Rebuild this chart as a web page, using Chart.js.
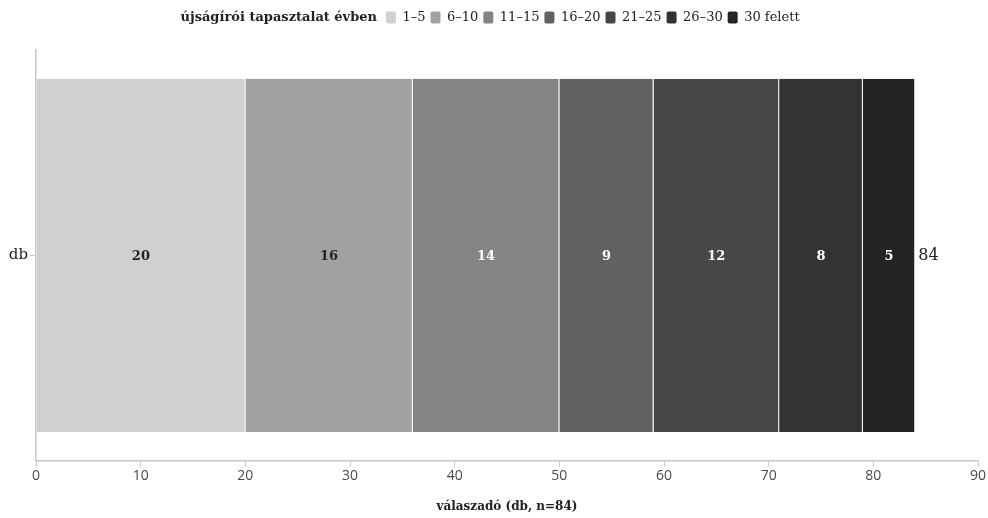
<!DOCTYPE html>
<html>
<head>
<meta charset="utf-8">
<script src="https://cdn.jsdelivr.net/npm/chart.js@4"></script>
<style>
  html, body { margin: 0; padding: 0; background: #fff; }
  #wrap { width: 988px; height: 518px; position: relative; }
</style>
</head>
<body>
<div id="wrap"><canvas id="c"></canvas></div>
<script>
// Respondents by years of journalistic experience
const categories = ['db'];
const groups = ['1–5', '6–10', '11–15', '16–20', '21–25', '26–30', '30 felett'];
const counts = [20, 16, 14, 9, 12, 8, 5];
const xTicks = [0, 10, 20, 30, 40, 50, 60, 70, 80, 90];
const legendTitle = 'újságírói tapasztalat évben';
const axisTitle = 'válaszadó (db, n=84)';

const palette = ['#d0d0d0', '#a1a1a1', '#848484', '#616161', '#474747', '#333333', '#242424'];
const labelInk = ['#222222', '#222222', '#ffffff', '#ffffff', '#ffffff', '#ffffff', '#ffffff'];

const SERIF = '"DejaVu Serif", "Liberation Serif", serif';
const SANS = '"Open Sans", "DejaVu Sans", sans-serif';

const total = counts.reduce((a, b) => a + b, 0);

// Extra room under the legend row
const legendGap = {
  id: 'legendGap',
  beforeInit(chart) {
    const lg = chart.legend;
    const fit = lg.fit;
    lg.fit = function () {
      fit.call(lg);
      this.height += 16;
    };
  }
};

// Segment values, stacked total, and the bold legend heading
const labelsPlugin = {
  id: 'segmentLabels',
  afterDatasetsDraw(chart) {
    const ctx = chart.ctx;
    ctx.save();
    ctx.textAlign = 'center';
    ctx.textBaseline = 'middle';
    ctx.font = 'bold 13px ' + SERIF;
    let lastEnd = null, midY = null;
    chart.data.datasets.forEach((ds, i) => {
      const meta = chart.getDatasetMeta(i);
      if (meta.hidden) return;
      meta.data.forEach((bar, j) => {
        const cx = (bar.x + bar.base) / 2;
        ctx.fillStyle = labelInk[i];
        ctx.fillText(String(ds.data[j]), cx, bar.y + 1);
        lastEnd = bar.x; midY = bar.y;
      });
    });
    if (lastEnd !== null) {
      ctx.textAlign = 'left';
      ctx.font = '16px ' + SERIF;
      ctx.fillStyle = '#222';
      ctx.fillText(String(total), lastEnd + 3, midY);
    }
    ctx.restore();
  },
  afterDraw(chart) {
    const lg = chart.legend;
    if (!lg || !lg.legendHitBoxes || !lg.legendHitBoxes.length) return;
    const hb = lg.legendHitBoxes[0];
    const ctx = chart.ctx;
    ctx.save();
    ctx.font = 'bold 13px ' + SERIF;
    ctx.fillStyle = '#222';
    ctx.textAlign = 'right';
    ctx.textBaseline = 'middle';
    ctx.fillText(legendTitle, hb.left + hb.width - 4, hb.top + hb.height / 2);
    ctx.restore();
  }
};

new Chart(document.getElementById('c'), {
  type: 'bar',
  data: {
    labels: categories,
    datasets: groups.map((g, i) => ({
      label: g,
      data: [counts[i]],
      backgroundColor: palette[i],
      borderColor: '#f2f2f2',
      borderWidth: { left: 0, right: 1, top: 0, bottom: 0 },
      borderSkipped: false,
      barPercentage: 0.86,
      categoryPercentage: 1
    }))
  },
  options: {
    indexAxis: 'y',
    responsive: true,
    maintainAspectRatio: false,
    animation: false,
    layout: { padding: { top: 6, right: 10, bottom: 4, left: 0 } },
    plugins: {
      tooltip: { enabled: false },
      legend: {
        position: 'top',
        align: 'center',
        onClick: () => {},
        labels: {
          color: '#222',
          font: { family: SERIF, size: 13 },
          boxWidth: 10,
          boxHeight: 12,
          padding: 5,
          useBorderRadius: true,
          borderRadius: 2,
          generateLabels(chart) {
            const items = Chart.defaults.plugins.legend.labels.generateLabels(chart);
            items.forEach(it => { it.lineWidth = 0; it.strokeStyle = 'rgba(0,0,0,0)'; });
            items.unshift({
              text: legendTitle + '  ',
              fillStyle: 'rgba(0,0,0,0)',
              strokeStyle: 'rgba(0,0,0,0)',
              fontColor: 'rgba(0,0,0,0)',
              lineWidth: 0,
              hidden: false,
              datasetIndex: -1
            });
            return items;
          }
        }
      }
    },
    scales: {
      x: {
        stacked: true,
        min: xTicks[0],
        max: xTicks[xTicks.length - 1],
        afterBuildTicks(scale) { scale.ticks = xTicks.map(v => ({ value: v })); },
        grid: { drawOnChartArea: false, drawTicks: true, tickLength: 6, color: '#c8c8c8' },
        border: { color: '#c8c8c8', width: 1.5 },
        ticks: { color: '#4a4a4a', font: { family: SANS, size: 14 }, padding: 1, maxRotation: 0 },
        title: {
          display: true,
          text: axisTitle,
          color: '#222',
          font: { family: SERIF, size: 12, weight: 'bold' },
          padding: { top: 14, bottom: 0 }
        }
      },
      y: {
        stacked: true,
        afterFit(scale) { scale.width = 36; },
        grid: { drawOnChartArea: false, drawTicks: true, tickLength: 6, offset: false, color: '#c8c8c8' },
        border: { color: '#c8c8c8', width: 1.5 },
        ticks: { color: '#222', font: { family: SERIF, size: 15 }, padding: 2 }
      }
    }
  },
  plugins: [legendGap, labelsPlugin]
});
</script>
</body>
</html>
